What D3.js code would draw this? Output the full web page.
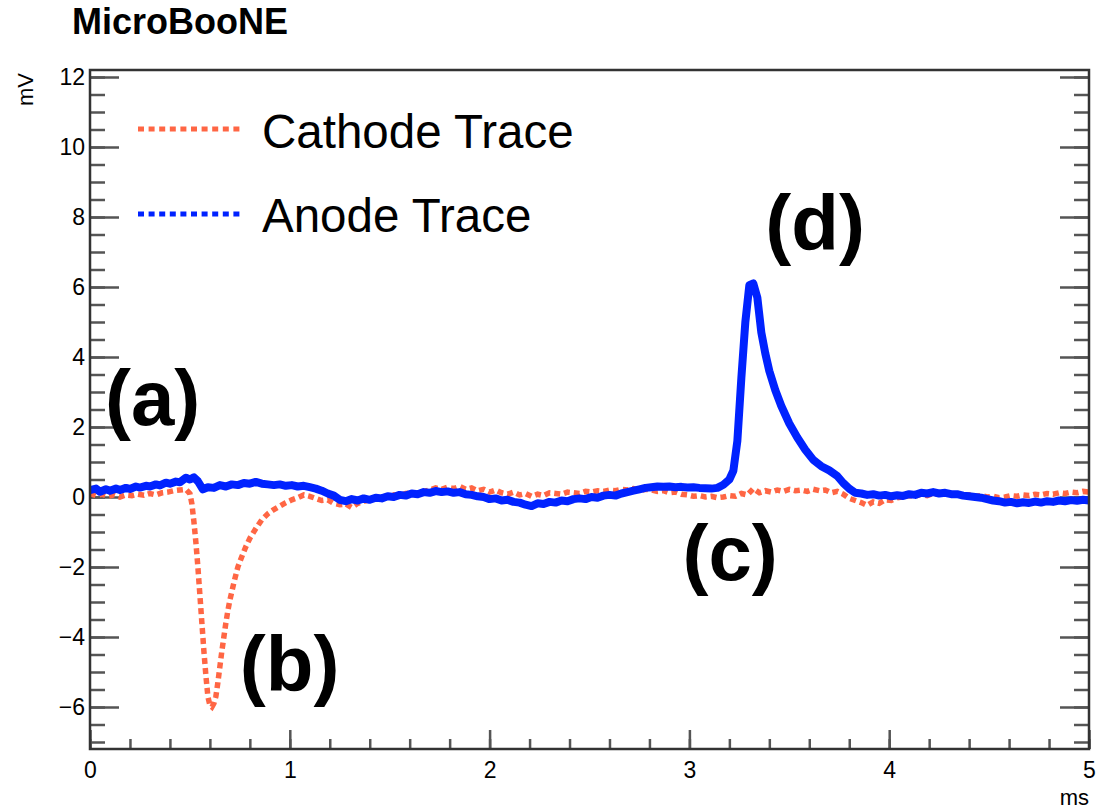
<!DOCTYPE html>
<html>
<head>
<meta charset="utf-8">
<script src="https://cdn.jsdelivr.net/npm/d3@7"></script>
<style>
	body { margin: 0; background: #fff; }
	svg { display: block; font-family: "Liberation Sans", Arial, Helvetica, sans-serif; }
	.axis text { font-size: 23px; fill: #000; }
	.axis line { stroke: #555; stroke-width: 2.5; }
	.axis path { display: none; }
	.label { font-weight: bold; fill: #000; }
</style>
</head>
<body>
<svg id="plot" width="1098" height="811"></svg>
<script>

function whenDocumentLoaded(action) {
	if (document.readyState === "loading") {
		document.addEventListener("DOMContentLoaded", action);
	} else {
		action();
	}
}

// values (ms, mV)
const ANODE_T = [0.00,0.03,0.05,0.08,0.10,0.13,0.15,0.18,0.20,0.23,0.25,0.28,0.30,0.33,0.35,0.38,0.40,0.43,0.45,0.48,
	0.50,0.52,0.54,0.565,0.59,0.62,0.65,0.68,0.71,0.74,0.77,0.80,0.83,0.86,0.89,0.92,0.95,0.98,1.01,1.04,
	1.07,1.10,1.13,1.16,1.19,1.22,1.25,1.28,1.31,1.34,1.37,1.40,1.43,1.46,1.49,1.52,1.55,1.58,1.61,1.64,
	1.67,1.70,1.73,1.76,1.79,1.82,1.85,1.88,1.91,1.94,1.97,2.00,2.03,2.06,2.09,2.12,2.15,2.18,2.21,2.24,
	2.27,2.30,2.33,2.36,2.39,2.42,2.45,2.48,2.51,2.54,2.57,2.60,2.63,2.66,2.69,2.72,2.75,2.78,2.81,2.84,
	2.87,2.90,2.93,2.96,2.99,3.02,3.05,3.08,3.11,3.14,3.17,3.20,3.22,3.24,3.26,3.28,3.30,3.32,3.34,3.36,
	3.38,3.40,3.43,3.46,3.50,3.54,3.58,3.62,3.66,3.70,3.74,3.77,3.80,3.83,3.86,3.89,3.92,3.95,3.98,4.01,
	4.04,4.07,4.10,4.13,4.16,4.19,4.22,4.25,4.28,4.31,4.34,4.37,4.40,4.43,4.46,4.49,4.52,4.55,4.58,4.61,
	4.64,4.67,4.70,4.73,4.76,4.79,4.82,4.85,4.88,4.91,4.94,4.97,5.00];
const ANODE_MV = [0.20,0.24,0.15,0.22,0.18,0.24,0.20,0.26,0.23,0.30,0.27,0.32,0.30,0.36,0.33,0.41,0.38,0.44,0.42,0.55,
	0.50,0.56,0.45,0.22,0.28,0.26,0.34,0.30,0.36,0.34,0.40,0.38,0.43,0.38,0.36,0.34,0.36,0.32,0.34,0.30,
	0.32,0.28,0.24,0.18,0.10,0.04,-0.08,-0.12,-0.06,-0.10,-0.04,-0.08,-0.02,-0.04,0.02,0.00,0.06,0.04,0.10,0.08,
	0.14,0.12,0.17,0.14,0.16,0.12,0.14,0.08,0.06,0.02,0.00,-0.06,-0.04,-0.10,-0.08,-0.14,-0.16,-0.22,-0.26,-0.18,
	-0.20,-0.14,-0.16,-0.10,-0.12,-0.06,-0.04,-0.06,0.00,-0.02,0.04,0.06,0.04,0.10,0.14,0.18,0.22,0.26,0.28,0.30,
	0.29,0.30,0.28,0.29,0.27,0.28,0.26,0.25,0.24,0.26,0.35,0.50,0.75,1.60,3.40,5.00,6.05,6.10,5.70,4.70,
	4.10,3.60,3.05,2.60,2.10,1.70,1.35,1.06,0.88,0.76,0.60,0.40,0.24,0.12,0.10,0.06,0.08,0.04,0.06,0.02,
	0.05,0.03,0.08,0.06,0.12,0.10,0.14,0.10,0.12,0.08,0.08,0.04,0.02,0.00,-0.02,-0.06,-0.10,-0.12,-0.16,-0.14,
	-0.18,-0.15,-0.17,-0.13,-0.16,-0.12,-0.14,-0.10,-0.12,-0.09,-0.11,-0.08,-0.10];

const CATHODE_T = [0.00,0.03,0.06,0.09,0.12,0.15,0.18,0.21,0.24,0.27,0.30,0.33,0.36,0.39,0.42,0.45,0.48,0.50,0.51,0.52,
	0.53,0.54,0.55,0.56,0.57,0.58,0.59,0.60,0.61,0.62,0.63,0.64,0.65,0.66,0.67,0.68,0.69,0.70,0.72,0.74,
	0.76,0.78,0.80,0.83,0.86,0.89,0.92,0.95,0.98,1.01,1.04,1.07,1.10,1.13,1.16,1.19,1.22,1.25,1.28,1.31,
	1.34,1.37,1.40,1.43,1.46,1.49,1.52,1.55,1.58,1.61,1.64,1.67,1.70,1.73,1.76,1.79,1.82,1.85,1.88,1.91,
	1.94,1.97,2.00,2.03,2.06,2.09,2.12,2.15,2.18,2.21,2.24,2.27,2.30,2.33,2.36,2.39,2.42,2.45,2.48,2.51,
	2.54,2.57,2.60,2.63,2.66,2.69,2.72,2.75,2.78,2.81,2.84,2.87,2.90,2.93,2.96,2.99,3.02,3.05,3.08,3.11,
	3.14,3.17,3.20,3.23,3.26,3.29,3.32,3.35,3.38,3.41,3.44,3.47,3.50,3.53,3.56,3.59,3.62,3.65,3.68,3.71,
	3.74,3.77,3.80,3.83,3.86,3.89,3.92,3.95,3.98,4.01,4.04,4.07,4.10,4.13,4.16,4.19,4.22,4.25,4.28,4.31,
	4.34,4.37,4.40,4.43,4.46,4.49,4.52,4.55,4.58,4.61,4.64,4.67,4.70,4.73,4.76,4.79,4.82,4.85,4.88,4.91,
	4.94,4.97,5.00];
const CATHODE_MV = [0.10,0.04,0.08,0.02,0.06,0.00,0.06,0.04,0.08,0.05,0.10,0.06,0.12,0.14,0.18,0.20,0.22,0.10,-0.20,-0.70,
	-1.30,-2.00,-2.80,-3.60,-4.40,-5.10,-5.70,-5.95,-6.00,-5.90,-5.70,-5.30,-4.85,-4.40,-4.00,-3.60,-3.25,-2.95,-2.45,-2.00,
	-1.70,-1.42,-1.18,-0.90,-0.65,-0.48,-0.36,-0.26,-0.16,-0.08,-0.02,0.06,0.02,-0.04,-0.10,-0.08,-0.18,-0.22,-0.20,-0.30,
	-0.18,-0.12,-0.08,-0.04,0.00,0.02,0.06,0.04,0.10,0.12,0.10,0.16,0.20,0.26,0.22,0.28,0.24,0.30,0.22,0.26,
	0.18,0.22,0.14,0.20,0.12,0.08,0.14,0.06,0.10,0.02,0.08,0.04,0.12,0.10,0.08,0.14,0.12,0.10,0.16,0.14,
	0.18,0.16,0.20,0.18,0.22,0.20,0.24,0.18,0.22,0.20,0.16,0.18,0.12,0.14,0.08,0.06,0.02,0.04,0.00,0.02,
	-0.02,0.00,0.04,0.02,0.10,0.06,0.24,0.12,0.18,0.14,0.20,0.16,0.22,0.18,0.20,0.16,0.22,0.18,0.20,0.12,
	0.16,0.08,-0.04,-0.10,-0.16,-0.24,-0.14,-0.18,-0.08,-0.10,-0.02,0.00,0.04,0.02,0.08,0.04,0.10,0.08,0.12,0.06,
	0.08,0.04,0.06,0.02,0.04,0.00,0.02,-0.02,0.00,0.04,0.02,0.06,0.04,0.08,0.06,0.10,0.08,0.12,0.10,0.14,
	0.12,0.16,0.14];

const X_TICKS = [0, 1, 2, 3, 4, 5];
const Y_TICKS = [-6, -4, -2, 0, 2, 4, 6, 8, 10, 12];
const SERIES_NAMES = ['Cathode Trace', 'Anode Trace'];
const ANNOTATIONS = [
	{ text: '(a)', x: 0.075, y: 2.05 },
	{ text: '(b)', x: 0.75, y: -5.55 },
	{ text: '(c)', x: 2.965, y: -2.37 },
	{ text: '(d)', x: 3.38, y: 7.05 },
];

const COLORS = { cathode: '#ff6644', anode: '#0022ff' };

class TracePlot {
	constructor(elementId) {
		this.elementId = elementId;
		this.draw();
	}
	draw() {
		var svg = d3.select(`#${this.elementId}`);
		var left = 90, right = 1089, top = 70, bottom = 749;

		var x = d3.scaleLinear().domain([0, 5]).range([left, right]);
		var y = d3.scaleLinear().domain([-7.2, 12.2]).range([bottom, top]);

		var minorX = d3.range(0, 5.001, 0.2);
		var minorY = d3.range(-7, 12.001, 0.5);

		// minor ticks
		svg.append('g').attr('class', 'axis')
			.attr('transform', `translate(0, ${bottom})`)
			.call(d3.axisBottom(x).tickValues(minorX).tickSize(-10).tickFormat(''));
		svg.append('g').attr('class', 'axis')
			.attr('transform', `translate(${left}, 0)`)
			.call(d3.axisLeft(y).tickValues(minorY).tickSize(-15).tickFormat(''));
		svg.append('g').attr('class', 'axis')
			.attr('transform', `translate(${right}, 0)`)
			.call(d3.axisRight(y).tickValues(minorY).tickSize(-15).tickFormat(''));

		// major ticks + labels
		svg.append('g').attr('class', 'axis')
			.attr('transform', `translate(0, ${bottom})`)
			.call(d3.axisBottom(x).tickValues(X_TICKS).tickSize(-19).tickPadding(13).tickFormat(d3.format('d')));
		svg.append('g').attr('class', 'axis')
			.attr('transform', `translate(${left}, 0)`)
			.call(d3.axisLeft(y).tickValues(Y_TICKS).tickSize(-29).tickPadding(5).tickFormat(d3.format('d')));
		svg.append('g').attr('class', 'axis')
			.attr('transform', `translate(${right}, 0)`)
			.call(d3.axisRight(y).tickValues(Y_TICKS).tickSize(-29).tickFormat(''));

		svg.selectAll('.axis line').attr('stroke', '#555');

		svg.append('clipPath').attr('id', 'frame-clip')
			.append('rect')
			.attr('x', left).attr('y', top)
			.attr('width', right - left).attr('height', bottom - top);

		var line = d3.line()
			.x((d) => x(d[0]))
			.y((d) => y(d[1]));

		var cathode = CATHODE_T.map((t, i) => [t, CATHODE_MV[i]]);
		var anode = ANODE_T.map((t, i) => [t, ANODE_MV[i]]);

		var traces = svg.append('g').attr('clip-path', 'url(#frame-clip)');
		traces.append('path')
			.datum(cathode)
			.attr('d', line)
			.attr('fill', 'none')
			.attr('stroke', COLORS.cathode)
			.attr('stroke-width', 5.5)
			.attr('stroke-dasharray', '6,4');
		traces.append('path')
			.datum(anode)
			.attr('d', line)
			.attr('fill', 'none')
			.attr('stroke', COLORS.anode)
			.attr('stroke-width', 8)
			.attr('stroke-linejoin', 'round');

		// frame
		svg.append('rect')
			.attr('x', left).attr('y', top)
			.attr('width', right - left).attr('height', bottom - top)
			.attr('fill', 'none')
			.attr('stroke', '#333')
			.attr('stroke-width', 2.5);

		// axis titles
		svg.append('text')
			.attr('transform', `translate(33, ${top + 3}) rotate(-90)`)
			.attr('text-anchor', 'end')
			.style('font-size', '22px')
			.text('mV');
		svg.append('text')
			.attr('x', right)
			.attr('y', 805)
			.attr('text-anchor', 'end')
			.style('font-size', '22px')
			.text('ms');

		svg.append('text')
			.attr('x', 72)
			.attr('y', 34)
			.attr('class', 'label')
			.style('font-size', '36px')
			.text('MicroBooNE');

		// legend
		var legendColors = [COLORS.cathode, COLORS.anode];
		var legendY = [129, 214];
		var legendBase = [148, 232];
		SERIES_NAMES.forEach((name, i) => {
			svg.append('line')
				.attr('x1', 138).attr('x2', 242)
				.attr('y1', legendY[i]).attr('y2', legendY[i])
				.attr('stroke', legendColors[i])
				.attr('stroke-width', 5)
				.attr('stroke-dasharray', '6,4.6');
			svg.append('text')
				.attr('x', 262)
				.attr('y', legendBase[i])
				.style('font-size', '47.5px')
				.text(name);
		});

		// (a)..(d) marks
		svg.append('g')
			.selectAll('text')
			.data(ANNOTATIONS)
			.enter()
			.append('text')
				.attr('class', 'label')
				.attr('x', (d) => x(d.x))
				.attr('y', (d) => y(d.y))
				.style('font-size', '78px')
				.text((d) => d.text);
	}
}

whenDocumentLoaded(() => {
	const plot = new TracePlot('plot');
});
</script>
</body>
</html>
